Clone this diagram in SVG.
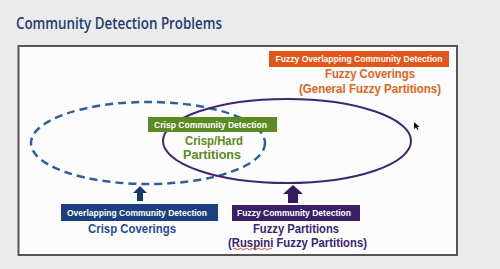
<svg xmlns="http://www.w3.org/2000/svg" width="500" height="269" viewBox="0 0 500 269">
  <style>
    .lbl { font-family: "Liberation Sans", Arial, sans-serif; font-weight: bold; font-size: 8.5px; fill: #ffffff; text-anchor: middle; }
    .big { font-family: "Liberation Sans", Arial, sans-serif; font-weight: bold; font-size: 12.5px; text-anchor: middle; }
    .arrow { stroke: none; }
  </style>
  <rect x="0" y="0" width="500" height="269" fill="#ecebeb"/>
  <text x="16" y="29" font-family="'Open Sans', 'Liberation Sans', sans-serif" font-weight="600" font-size="16" fill="#1f3b70" textLength="206" lengthAdjust="spacingAndGlyphs">Community Detection Problems</text>
  <rect x="18.5" y="46" width="438.5" height="209" fill="#fcfcfc" stroke="#555555" stroke-width="2"/>

  <g id="connectors">
    <ellipse cx="148" cy="143" rx="117" ry="41" fill="none" stroke="#2e5ea0" stroke-width="2.5" stroke-dasharray="8 5"/>
    <ellipse cx="287" cy="141" rx="124" ry="42" fill="none" stroke="#3e2670" stroke-width="2"/>
    <polygon class="arrow" fill="#163b73" points="140,186 147,193 143,193 143,201 137,201 137,193 133,193"/>
    <polygon class="arrow" fill="#36195f" points="293,185 303,194 298,194 298,203 288,203 288,194 283,194"/>
  </g>

  <g id="fuzzy-overlapping">
    <rect x="269" y="51" width="180" height="16" fill="#e2561b"/>
    <text class="lbl" x="359" y="62.3" textLength="167" lengthAdjust="spacingAndGlyphs">Fuzzy Overlapping Community Detection</text>
    <text class="big" x="370" y="78" fill="#e5621d" textLength="90" lengthAdjust="spacingAndGlyphs">Fuzzy Coverings</text>
    <text class="big" x="370" y="92.5" fill="#e5621d" textLength="142" lengthAdjust="spacingAndGlyphs">(General Fuzzy Partitions)</text>
  </g>

  <g id="crisp">
    <rect x="148" y="117" width="129" height="15" fill="#5a8a22"/>
    <text class="lbl" x="210.5" y="127.6" textLength="113" lengthAdjust="spacingAndGlyphs">Crisp Community Detection</text>
    <text class="big" x="214" y="145" fill="#5a8a22" textLength="58" lengthAdjust="spacingAndGlyphs">Crisp/Hard</text>
    <text class="big" x="212" y="158.5" fill="#5a8a22" textLength="58" lengthAdjust="spacingAndGlyphs">Partitions</text>
  </g>

  <g id="overlapping">
    <rect x="61" y="204" width="157" height="17" fill="#1b3f7f"/>
    <text class="lbl" x="137" y="215.8" textLength="140" lengthAdjust="spacingAndGlyphs">Overlapping Community Detection</text>
    <text class="big" x="132" y="233" fill="#28498e" textLength="88" lengthAdjust="spacingAndGlyphs">Crisp Coverings</text>
  </g>

  <g id="fuzzy">
    <rect x="232" y="205" width="128" height="16" fill="#3b1f66"/>
    <text class="lbl" x="294" y="216.3" textLength="114" lengthAdjust="spacingAndGlyphs">Fuzzy Community Detection</text>
    <text class="big" x="296" y="232.5" fill="#3d2470" textLength="86" lengthAdjust="spacingAndGlyphs">Fuzzy Partitions</text>
    <text class="big" x="297.5" y="246.5" fill="#3d2470" textLength="139" lengthAdjust="spacingAndGlyphs">(Ruspini Fuzzy Partitions)</text>
    <path d="M233,249 q1.5,-1.5 3,0 t3,0 t3,0 t3,0 t3,0 t3,0 t3,0 t3,0 t3,0 t3,0 t3,0 t3,0 t3,0" fill="none" stroke="#d9342b" stroke-width="0.9"/>
  </g>

  <polygon points="414,122 414,129 416,127.5 417.5,130 418.5,129.5 417.3,127 419.5,127" fill="#111111"/>
</svg>
